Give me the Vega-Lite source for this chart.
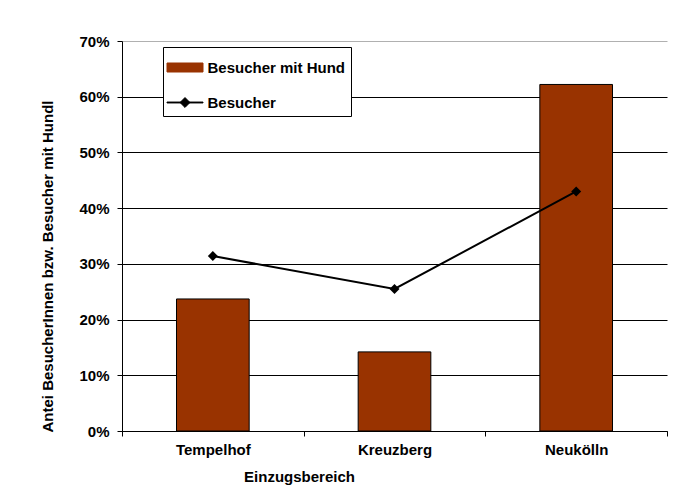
{
  "$schema": "https://vega.github.io/schema/vega-lite/v6.json",
  "width": 545,
  "height": 390,
  "autosize": "none",
  "padding": {"left": 122, "top": 41, "right": 19, "bottom": 71},
  "background": "white",
  "config": {
    "view": {"stroke": null},
    "font": "Liberation Sans"
  },
  "data": {
    "values": [
      {"Bereich": "Tempelhof", "Serie": "Besucher mit Hund", "Anteil": 0.237},
      {"Bereich": "Kreuzberg", "Serie": "Besucher mit Hund", "Anteil": 0.142},
      {"Bereich": "Neukölln", "Serie": "Besucher mit Hund", "Anteil": 0.622},
      {"Bereich": "Tempelhof", "Serie": "Besucher", "Anteil": 0.314},
      {"Bereich": "Kreuzberg", "Serie": "Besucher", "Anteil": 0.255},
      {"Bereich": "Neukölln", "Serie": "Besucher", "Anteil": 0.430}
    ]
  },
  "encoding": {
    "x": {
      "field": "Bereich",
      "type": "nominal",
      "sort": ["Tempelhof", "Kreuzberg", "Neukölln"],
      "scale": {"paddingInner": 0, "paddingOuter": 0},
      "axis": {
        "title": "Einzugsbereich",
        "titleFont": "Liberation Sans",
        "titleFontSize": 15,
        "titleFontWeight": "bold",
        "titleColor": "black",
        "titleX": 177,
        "titleY": 45,
        "titleBaseline": "middle",
        "titleAlign": "center",
        "labelAngle": 0,
        "labelFont": "Liberation Sans",
        "labelFontSize": 15,
        "labelFontWeight": "bold",
        "labelColor": "black",
        "labelPadding": 6,
        "tickBand": "extent",
        "tickSize": 5,
        "tickColor": "black",
        "domainColor": "black",
        "grid": false
      }
    },
    "y": {
      "field": "Anteil",
      "type": "quantitative",
      "scale": {"domain": [0, 0.7], "nice": false},
      "axis": {
        "title": "Antei BesucherInnen bzw. Besucher mit Hundl",
        "titleFont": "Liberation Sans",
        "titleFontSize": 15,
        "titleFontWeight": "bold",
        "titleColor": "black",
        "titleX": -75,
        "titleY": 225,
        "titleAngle": -90,
        "titleAlign": "center",
        "titleBaseline": "middle",
        "values": [0, 0.1, 0.2, 0.3, 0.4, 0.5, 0.6, 0.7],
        "format": ".0%",
        "labelFont": "Liberation Sans",
        "labelFontSize": 15,
        "labelFontWeight": "bold",
        "labelColor": "black",
        "labelPadding": 8,
        "tickSize": 5,
        "tickColor": "black",
        "domainColor": "black",
        "grid": true,
        "gridColor": {"condition": {"test": "datum.value >= 0.69", "value": "#b0b0b0"}, "value": "black"},
        "gridWidth": 1,
        "gridOpacity": 1
      }
    },
    "color": {
      "field": "Serie",
      "type": "nominal",
      "scale": {"domain": ["Besucher mit Hund", "Besucher"], "range": ["#993300", "black"]},
      "legend": {
        "title": null,
        "orient": "none",
        "legendX": 41,
        "legendY": 6,
        "strokeColor": "black",
        "fillColor": "white",
        "padding": 5,
        "symbolSize": 900,
        "symbolStrokeWidth": 1,
        "symbolOffset": 1.5,
        "labelOffset": 7,
        "rowPadding": 11,
        "labelFont": "Liberation Sans",
        "labelFontSize": 15,
        "labelFontWeight": "bold",
        "labelColor": "black",
        "encode": {
          "symbols": {
            "update": {
              "shape": {"signal": "datum.value === 'Besucher' ? 'M-1.2,-0.03H1.2V0.03H-1.2ZM0,-0.33L0.33,0L0,0.33L-0.33,0Z' : 'M-1.2,-0.3H1.2V0.3H-1.2Z'"},
              "fill": {"signal": "datum.value === 'Besucher' ? 'black' : '#993300'"},
              "stroke": {"value": "black"},
              "opacity": {"value": 1},
              "fillOpacity": {"value": 1}
            }
          }
        }
      }
    }
  },
  "layer": [
    {
      "transform": [{"filter": "datum.Serie === 'Besucher mit Hund'"}],
      "mark": {"type": "bar", "width": {"band": 0.4}, "stroke": "black", "strokeWidth": 1}
    },
    {
      "transform": [{"filter": "datum.Serie === 'Besucher'"}],
      "mark": {
        "type": "line",
        "strokeWidth": 2,
        "point": {"shape": "diamond", "size": 100, "filled": true, "opacity": 1}
      }
    }
  ]
}
